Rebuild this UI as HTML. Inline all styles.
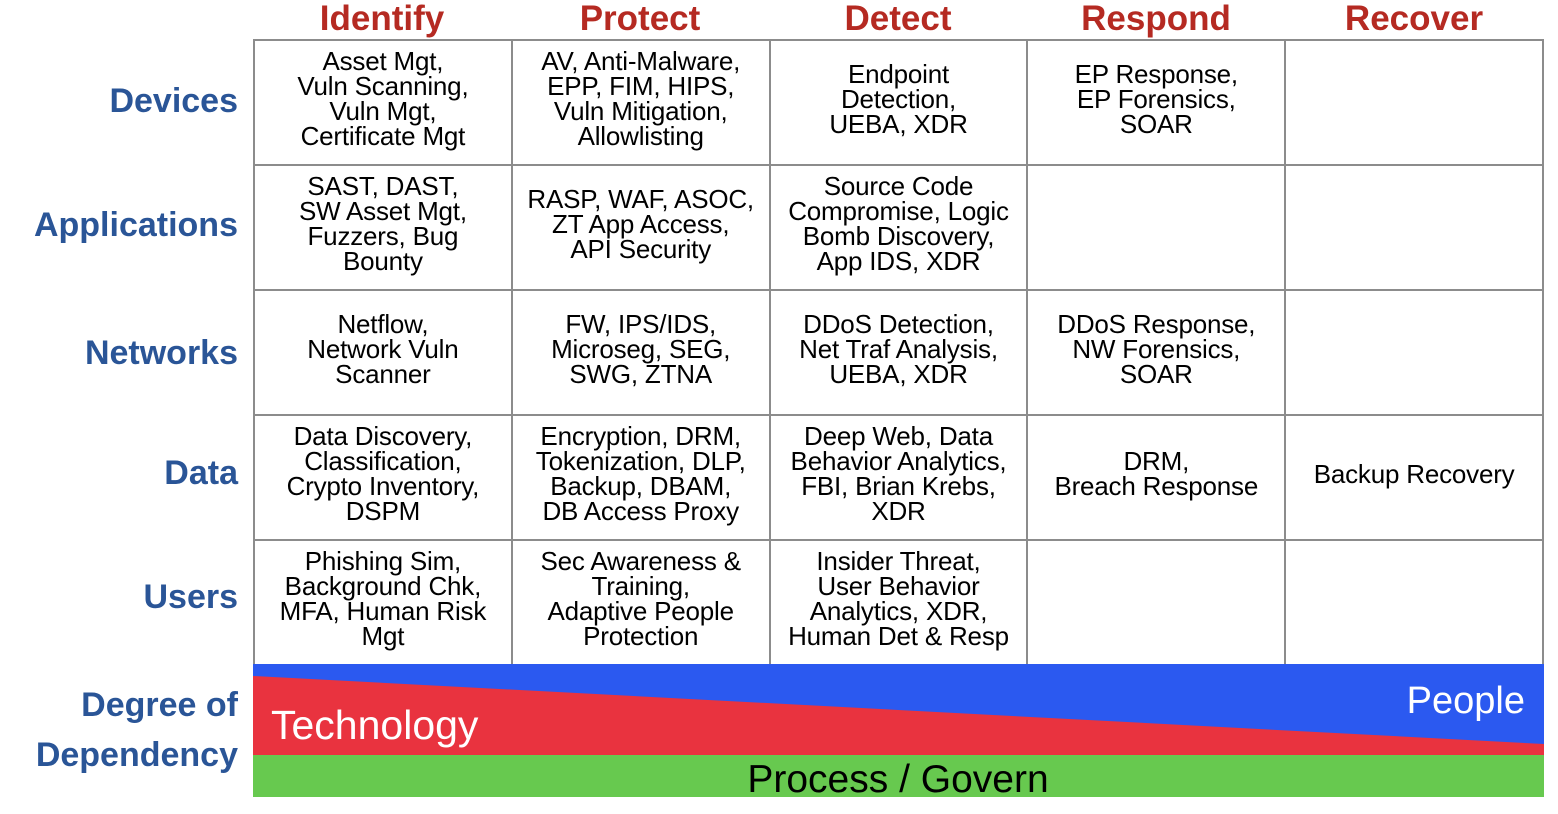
<!DOCTYPE html>
<html><head><meta charset="utf-8"><style>
body{margin:0;width:1558px;height:814px;background:#fff;position:relative;overflow:hidden;font-family:"Liberation Sans",sans-serif}
.h{position:absolute;top:-3px;width:258px;text-align:center;color:#b52a22;font-weight:bold;font-size:35px;line-height:44px}
.r{position:absolute;right:1320px;color:#2a5597;font-weight:bold;font-size:34px;text-align:right;line-height:44px}
table{position:absolute;left:253px;top:39px;border-collapse:collapse;table-layout:fixed;width:1291px}
td{border:2px solid #8c8c8c;width:256px;height:123px;box-sizing:border-box;padding:0 0 7px 0;text-align:center;vertical-align:middle;font-size:26px;line-height:25px;color:#000;letter-spacing:-0.2px;white-space:nowrap}
</style></head><body>
<div class="h" style="left:253px">Identify</div>
<div class="h" style="left:511px">Protect</div>
<div class="h" style="left:769px">Detect</div>
<div class="h" style="left:1027px">Respond</div>
<div class="h" style="left:1285px">Recover</div>
<div class="r" style="top:79px">Devices</div>
<div class="r" style="top:203px">Applications</div>
<div class="r" style="top:331px">Networks</div>
<div class="r" style="top:451px">Data</div>
<div class="r" style="top:575px">Users</div>
<div class="r" style="top:680px;line-height:50px">Degree of<br>Dependency</div>
<table>
<tr style="height:125px"><td>Asset Mgt,<br>Vuln Scanning,<br>Vuln Mgt,<br>Certificate Mgt</td><td>AV, Anti-Malware,<br>EPP, FIM, HIPS,<br>Vuln Mitigation,<br>Allowlisting</td><td>Endpoint<br>Detection,<br>UEBA, XDR</td><td>EP Response,<br>EP Forensics,<br>SOAR</td><td></td></tr>
<tr style="height:125px"><td>SAST, DAST,<br>SW Asset Mgt,<br>Fuzzers, Bug<br>Bounty</td><td>RASP, WAF, ASOC,<br>ZT App Access,<br>API Security</td><td>Source Code<br>Compromise, Logic<br>Bomb Discovery,<br>App IDS, XDR</td><td></td><td></td></tr>
<tr style="height:125px"><td>Netflow,<br>Network Vuln<br>Scanner</td><td>FW, IPS/IDS,<br>Microseg, SEG,<br>SWG, ZTNA</td><td>DDoS Detection,<br>Net Traf Analysis,<br>UEBA, XDR</td><td>DDoS Response,<br>NW Forensics,<br>SOAR</td><td></td></tr>
<tr style="height:125px"><td>Data Discovery,<br>Classification,<br>Crypto Inventory,<br>DSPM</td><td>Encryption, DRM,<br>Tokenization, DLP,<br>Backup, DBAM,<br>DB Access Proxy</td><td>Deep Web, Data<br>Behavior Analytics,<br>FBI, Brian Krebs,<br>XDR</td><td>DRM,<br>Breach Response</td><td>Backup Recovery</td></tr>
<tr style="height:125px"><td>Phishing Sim,<br>Background Chk,<br>MFA, Human Risk<br>Mgt</td><td>Sec Awareness &amp;<br>Training,<br>Adaptive People<br>Protection</td><td>Insider Threat,<br>User Behavior<br>Analytics, XDR,<br>Human Det &amp; Resp</td><td></td><td></td></tr>
</table>
<svg style="position:absolute;left:253px;top:664px" width="1291" height="133">
<rect x="0" y="0" width="1291" height="91" fill="#2b59f0"/>
<polygon points="0,12 1291,80 1291,91 0,91" fill="#e9333f"/>
<rect x="0" y="91" width="1291" height="42" fill="#67c94f"/>
<text x="18" y="75" fill="#fff" font-family="Liberation Sans,sans-serif" font-size="41">Technology</text>
<text x="1272" y="49" fill="#fff" font-family="Liberation Sans,sans-serif" font-size="38" text-anchor="end">People</text>
<text x="645" y="128" fill="#000" font-family="Liberation Sans,sans-serif" font-size="39" text-anchor="middle">Process / Govern</text>
</svg>
</body></html>
